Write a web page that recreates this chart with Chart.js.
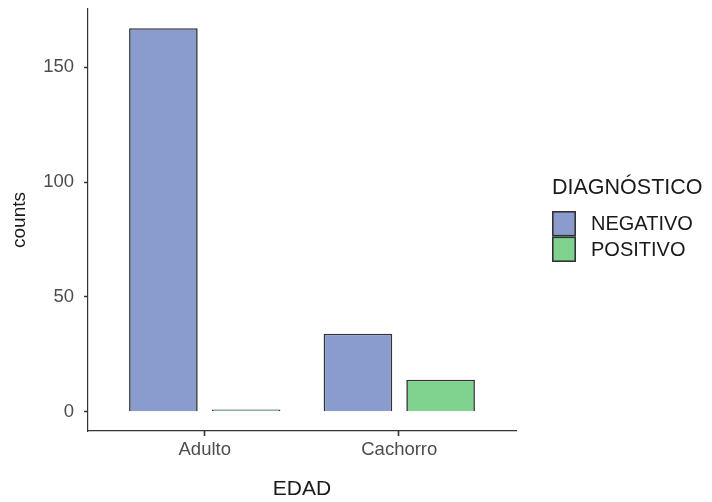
<!DOCTYPE html>
<html>
<head>
<meta charset="utf-8">
<script src="https://cdn.jsdelivr.net/npm/chart.js@4/dist/chart.umd.min.js"></script>
<style>
  html, body { margin: 0; padding: 0; background: #ffffff; }
  canvas { display: block; }
</style>
</head>
<body>
<canvas id="chart" width="712" height="502"></canvas>
<script>
// Counts of diagnosis results by age group
const categories = ['Adulto', 'Cachorro'];
const negativo = [167, 34];
const positivo = [1, 14];
const yTicks = [0, 50, 100, 150];
const seriesNames = ['NEGATIVO', 'POSITIVO'];
const legendTitle = 'DIAGNÓSTICO';

const FONT = "'Liberation Sans', Arial, sans-serif";
const fills = ['#8a9bcd', '#7fd38e'];
const edge = '#333333';

const toPoints = arr => arr.map((v, i) => ({ x: i + 1, y: v }));

// Short tick marks under the x axis at each category position
const categoryTicks = {
  id: 'categoryTicks',
  afterDraw(chart) {
    const xs = chart.scales.x;
    const ctx = chart.ctx;
    ctx.save();
    ctx.strokeStyle = '#333';
    ctx.lineWidth = 1.6;
    xs.ticks.forEach((t, i) => {
      const px = Math.round(xs.getPixelForTick(i)) - 0.5;
      ctx.beginPath();
      ctx.moveTo(px, xs.top);
      ctx.lineTo(px, xs.top + 5);
      ctx.stroke();
    });
    ctx.restore();
  }
};

// Legend drawn to the right of the plot panel
const sideLegend = {
  id: 'sideLegend',
  afterDraw(chart) {
    const ctx = chart.ctx;
    const x0 = 552, keyW = 24, keyH = 25.5;
    let y = 211;
    ctx.save();
    ctx.fillStyle = '#1a1a1a';
    ctx.font = '21.5px ' + FONT;
    ctx.textBaseline = 'middle';
    ctx.textAlign = 'left';
    ctx.fillText(legendTitle, x0, 188);
    chart.data.datasets.forEach(ds => {
      ctx.fillStyle = ds.backgroundColor;
      ctx.fillRect(x0, y, keyW, keyH);
      ctx.strokeStyle = ds.borderColor;
      ctx.lineWidth = 1.6;
      ctx.strokeRect(x0 + 0.8, y + 0.8, keyW - 1.6, keyH - 1.6);
      ctx.fillStyle = '#1a1a1a';
      ctx.font = '20px ' + FONT;
      ctx.fillText(ds.label, x0 + 39, y + keyH / 2 + 1);
      y += keyH;
    });
    ctx.restore();
  }
};

new Chart(document.getElementById('chart'), {
  type: 'bar',
  data: {
    datasets: [
      { label: seriesNames[0], data: toPoints(negativo), backgroundColor: fills[0], borderColor: edge, borderWidth: 1.6 },
      { label: seriesNames[1], data: toPoints(positivo), backgroundColor: fills[1], borderColor: edge, borderWidth: 1.6 }
    ]
  },
  options: {
    responsive: false,
    animation: false,
    categoryPercentage: 0.85,
    barPercentage: 0.83,
    layout: { padding: { top: 9, right: 196, left: 0, bottom: 0 } },
    plugins: { legend: { display: false }, tooltip: { enabled: false } },
    scales: {
      x: {
        type: 'linear',
        min: 0.4,
        max: 2.6,
        offset: false,
        afterBuildTicks: s => { s.ticks = categories.map((c, i) => ({ value: i + 1 })); },
        afterFit: s => { s.height = 71; s.paddingLeft = 0; s.paddingRight = 0; },
        ticks: {
          callback: v => categories[Math.round(v) - 1] || '',
          color: '#4d4d4d',
          font: { family: FONT, size: 18.5 },
          padding: 8,
          maxRotation: 0,
          autoSkip: false
        },
        grid: { display: false, drawTicks: false, tickLength: 0 },
        border: { display: true, color: '#333', width: 1.2 },
        title: { display: true, text: 'EDAD', color: '#1a1a1a', font: { family: FONT, size: 21 }, padding: { top: 5, bottom: 0 } }
      },
      y: {
        type: 'linear',
        min: -8.35,
        max: 175.35,
        afterBuildTicks: s => { s.ticks = yTicks.map(v => ({ value: v })); },
        afterFit: s => { s.width = 88; s.paddingTop = 0; s.paddingBottom = 0; },
        ticks: {
          color: '#4d4d4d',
          font: { family: FONT, size: 18.5 },
          padding: 10
        },
        grid: { display: true, drawOnChartArea: false, tickLength: 4, tickColor: '#333', tickWidth: 1.5 },
        border: { display: true, color: '#333', width: 1.2 },
        title: { display: true, text: 'counts', color: '#1a1a1a', font: { family: FONT, size: 19 }, padding: { top: 8, bottom: 0 } }
      }
    }
  },
  plugins: [categoryTicks, sideLegend]
});
</script>
</body>
</html>
